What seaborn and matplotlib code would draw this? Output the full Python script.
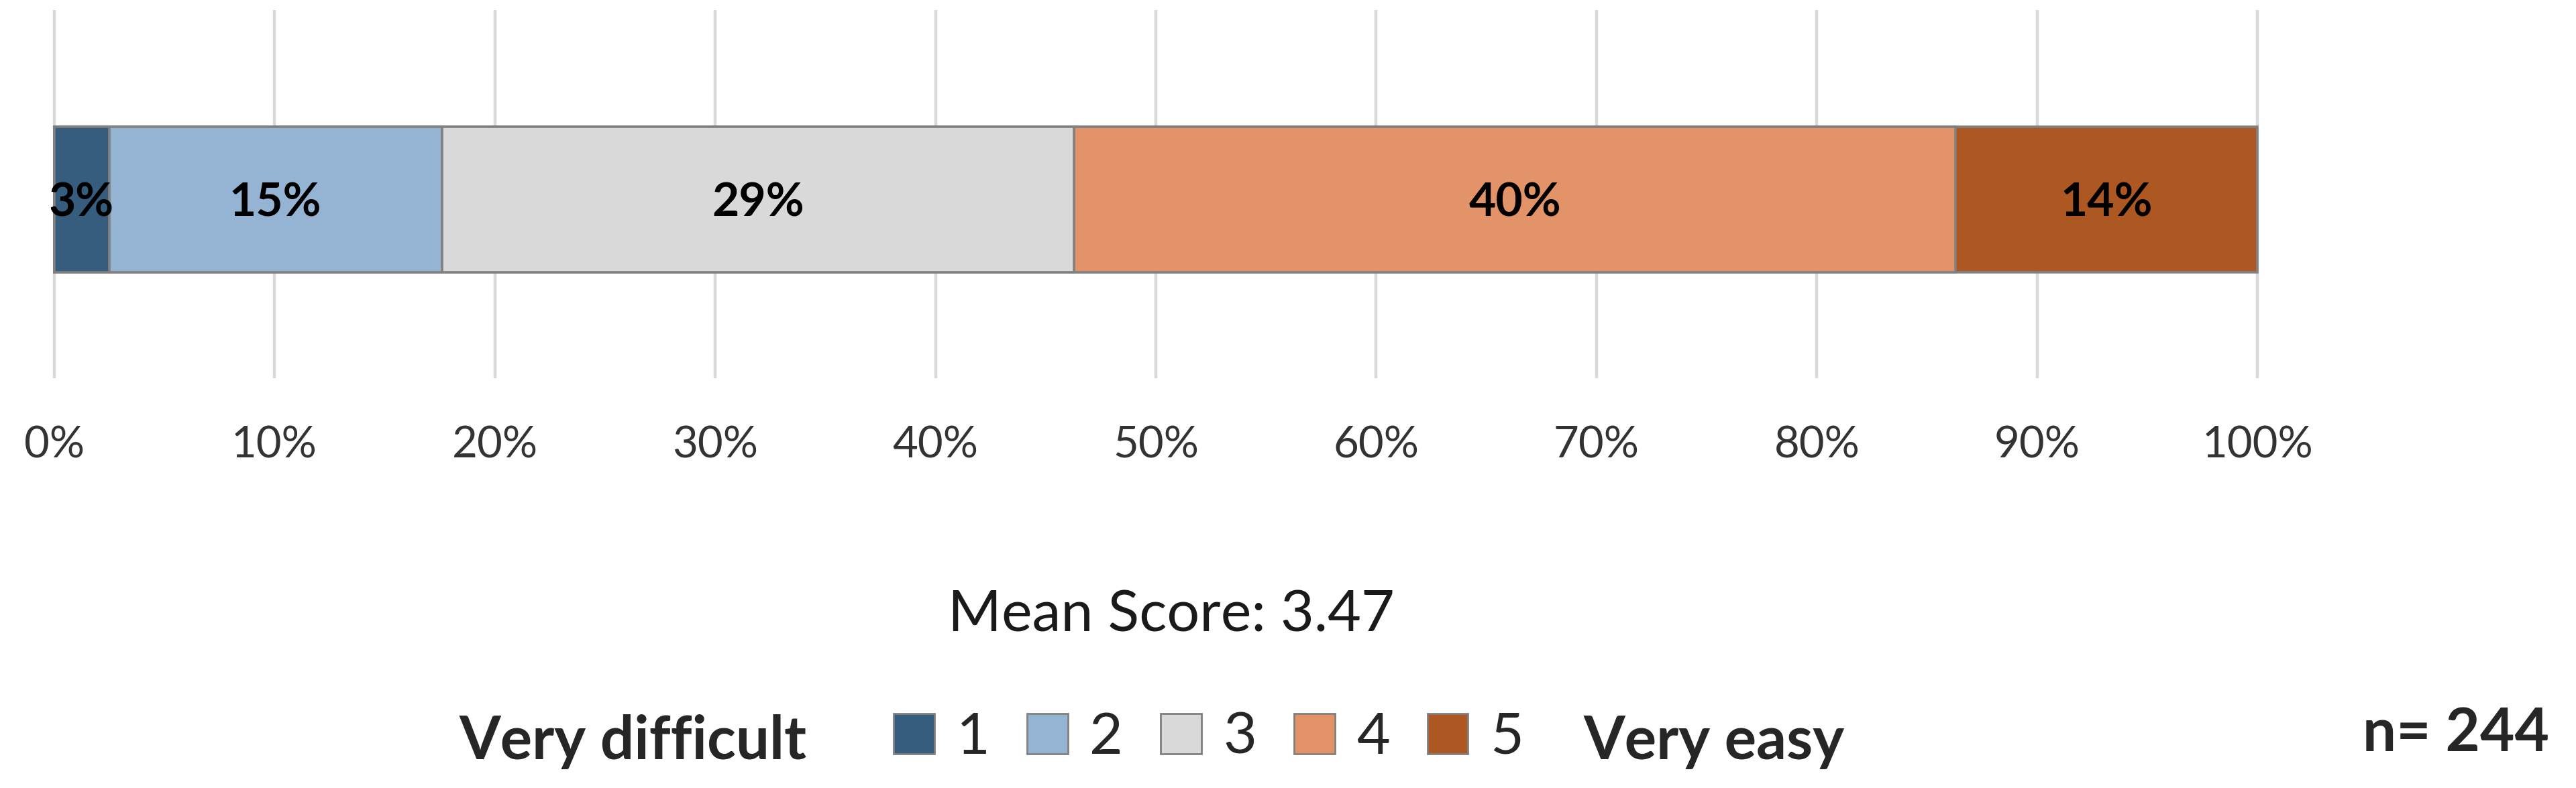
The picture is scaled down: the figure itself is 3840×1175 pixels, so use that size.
import matplotlib
matplotlib.use('Agg')
import matplotlib.pyplot as plt
import seaborn as sns
from matplotlib.patches import Patch

# survey answers, share of respondents per score
scores = ['1', '2', '3', '4', '5']
shares = [2.5, 15.1, 28.7, 40.0, 13.7]
share_labels = ['3%', '15%', '29%', '40%', '14%']
colors = ['#365C7E', '#95B4D3', '#D9D9D9', '#E29468', '#AD5822']
tick_values = list(range(0, 101, 10))
tick_labels = [f'{t}%' for t in tick_values]
mean_score = 3.47
n_resp = 244

sns.set_theme(style='white')
plt.rcParams['font.family'] = ['Lato', 'DejaVu Sans']

fig = plt.figure(figsize=(38.4, 11.75), dpi=100)
ax = fig.add_axes([0.0197, 0.52, 0.858, 0.467])

# cumulative totals for stacking
cum = []
total = 0
for v in shares:
    total += v
    cum.append(total)

# draw the longest bar first so the shorter ones sit on top
for i in reversed(range(len(shares))):
    sns.barplot(x=[cum[i]], y=['q'], orient='h', color=colors[i], saturation=1,
                width=0.395, edgecolor='#808080', linewidth=2.6, ax=ax)

for i in range(len(shares)):
    ax.text(cum[i] - shares[i] / 2, 0.01, share_labels[i], ha='center', va='center',
            fontsize=50, fontweight='bold', color='black', clip_on=True)

ax.set_xlim(-0.15, 100.15)
ax.set_ylim(0.486, -0.514)
ax.set_xticks(tick_values, tick_labels)
ax.set_yticks([])
ax.set_xlabel('')
ax.set_ylabel('')
ax.tick_params(axis='x', length=0, pad=51, labelsize=47, labelcolor='#333333')
ax.grid(True, axis='x', color='#D9D9D9', linewidth=3.2)
ax.set_axisbelow(True)
for s in ax.spines.values():
    s.set_visible(False)

fig.text(0.4547, 0.1983, f'Mean Score: {mean_score:.2f}', ha='center', va='baseline',
         fontsize=62, color='#1a1a1a')

handles = [Patch(facecolor=c, edgecolor='#808080', linewidth=2) for c in colors]
fig.legend(handles, scores, loc='center left', bbox_to_anchor=(0.347, 0.064), ncol=5,
           frameon=False, fontsize=62, handlelength=0.7, handleheight=0.7,
           handletextpad=0.38, columnspacing=0.65, borderpad=0, borderaxespad=0)

fig.text(0.3133, 0.0366, 'Very difficult', ha='right', va='baseline', fontsize=64,
         fontweight='bold')
fig.text(0.6148, 0.0366, 'Very easy', ha='left', va='baseline', fontsize=64,
         fontweight='bold')
fig.text(0.9895, 0.0468, f'n= {n_resp}', ha='right', va='baseline', fontsize=64,
         fontweight='bold')

fig.savefig('out.png', dpi=100)
